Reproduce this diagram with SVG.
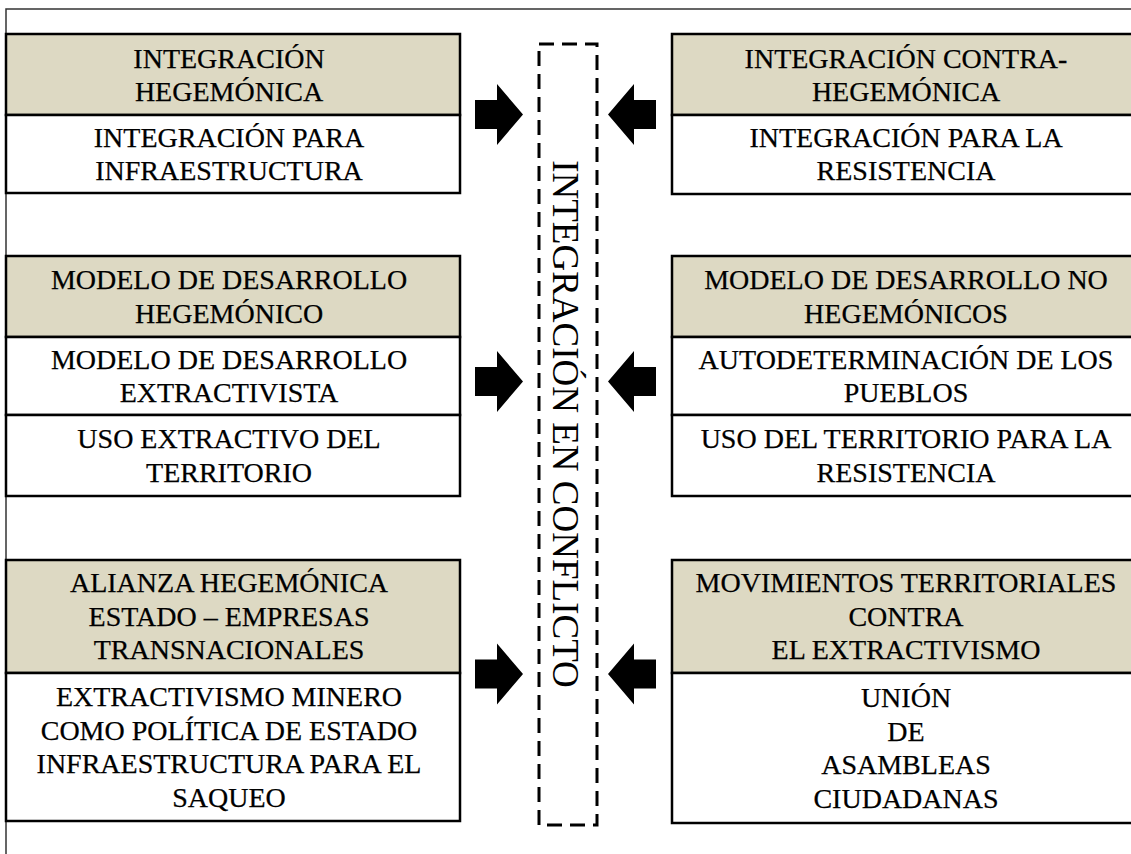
<svg xmlns="http://www.w3.org/2000/svg" xmlns:xlink="http://www.w3.org/1999/xlink" width="1131" height="854" viewBox="0 0 1131 854">
<style>
.hdr{fill:#DDD9C3;stroke:#000;stroke-width:2.5}
.cell{fill:#fff;stroke:#000;stroke-width:2.5}
.t{font-family:"Liberation Serif","Times New Roman",serif;font-size:28px;text-anchor:middle;fill:#000;stroke:#000;stroke-width:0.25}
.vt{font-family:"Liberation Serif","Times New Roman",serif;font-size:37px;text-anchor:middle;fill:#000}
.frame{fill:none;stroke:#333;stroke-width:1.5}
.arrow{fill:#000}
</style>
<defs>
<polygon id="arr" points="475,-14.5 497,-14.5 497,-30.5 523,0 497,30.5 497,14.5 475,14.5"/>
</defs>
<rect width="1131" height="854" fill="#fff"/>
<path class="frame" d="M6,854 V9 H1131"/>

<g id="integracion-hegemonica">
<rect class="hdr" x="6" y="34" width="454" height="81"/>
<rect class="cell" x="6" y="115" width="454" height="78"/>
<text class="t"><tspan x="229" y="67.5">INTEGRACIÓN</tspan><tspan x="229" y="101">HEGEMÓNICA</tspan></text>
<text class="t"><tspan x="229" y="146.5">INTEGRACIÓN PARA</tspan><tspan x="229" y="180">INFRAESTRUCTURA</tspan></text>
</g>

<g id="integracion-contra-hegemonica">
<rect class="hdr" x="672" y="34" width="470" height="81"/>
<rect class="cell" x="672" y="115" width="470" height="79"/>
<text class="t"><tspan x="906" y="67.5">INTEGRACIÓN CONTRA-</tspan><tspan x="906" y="101">HEGEMÓNICA</tspan></text>
<text class="t"><tspan x="906" y="146.5">INTEGRACIÓN PARA LA</tspan><tspan x="906" y="180">RESISTENCIA</tspan></text>
</g>

<g id="modelo-hegemonico">
<rect class="hdr" x="6" y="256" width="454" height="81"/>
<rect class="cell" x="6" y="337" width="454" height="78"/>
<rect class="cell" x="6" y="415" width="454" height="81"/>
<text class="t"><tspan x="229" y="289">MODELO DE DESARROLLO</tspan><tspan x="229" y="322.6">HEGEMÓNICO</tspan></text>
<text class="t"><tspan x="229" y="368.5">MODELO DE DESARROLLO</tspan><tspan x="229" y="402">EXTRACTIVISTA</tspan></text>
<text class="t"><tspan x="229" y="448">USO EXTRACTIVO DEL</tspan><tspan x="229" y="481.6">TERRITORIO</tspan></text>
</g>

<g id="modelo-no-hegemonico">
<rect class="hdr" x="672" y="256" width="470" height="81"/>
<rect class="cell" x="672" y="337" width="470" height="78"/>
<rect class="cell" x="672" y="415" width="470" height="81"/>
<text class="t"><tspan x="906" y="289">MODELO DE DESARROLLO NO</tspan><tspan x="906" y="322.6">HEGEMÓNICOS</tspan></text>
<text class="t"><tspan x="906" y="368.5">AUTODETERMINACIÓN DE LOS</tspan><tspan x="906" y="402">PUEBLOS</tspan></text>
<text class="t"><tspan x="906" y="448">USO DEL TERRITORIO PARA LA</tspan><tspan x="906" y="481.6">RESISTENCIA</tspan></text>
</g>

<g id="alianza-hegemonica">
<rect class="hdr" x="6" y="560" width="454" height="113"/>
<rect class="cell" x="6" y="673" width="454" height="148"/>
<text class="t"><tspan x="229" y="592.2">ALIANZA HEGEMÓNICA</tspan><tspan x="229" y="625.8">ESTADO – EMPRESAS</tspan><tspan x="229" y="659.4">TRANSNACIONALES</tspan></text>
<text class="t"><tspan x="229" y="706">EXTRACTIVISMO MINERO</tspan><tspan x="229" y="739.5">COMO POLÍTICA DE ESTADO</tspan><tspan x="229" y="773">INFRAESTRUCTURA PARA EL</tspan><tspan x="229" y="806.7">SAQUEO</tspan></text>
</g>

<g id="movimientos-territoriales">
<rect class="hdr" x="672" y="560" width="470" height="113"/>
<rect class="cell" x="672" y="673" width="470" height="150"/>
<text class="t"><tspan x="906" y="592.2">MOVIMIENTOS TERRITORIALES</tspan><tspan x="906" y="625.8">CONTRA</tspan><tspan x="906" y="659.4">EL EXTRACTIVISMO</tspan></text>
<text class="t"><tspan x="906" y="707">UNIÓN</tspan><tspan x="906" y="740.5">DE</tspan><tspan x="906" y="774">ASAMBLEAS</tspan><tspan x="906" y="807.7">CIUDADANAS</tspan></text>
</g>

<g id="integracion-en-conflicto">
<rect x="539" y="44" width="58" height="781" fill="none" stroke="#000" stroke-width="3" stroke-dasharray="15 8"/>
<text class="vt" transform="translate(553,424) rotate(90)" x="0" y="0">INTEGRACIÓN EN CONFLICTO</text>
</g>

<g id="connectors">
<use class="arrow" xlink:href="#arr" transform="translate(0,114.5)"/>
<use class="arrow" xlink:href="#arr" transform="translate(1131,114.5) scale(-1,1)"/>
<use class="arrow" xlink:href="#arr" transform="translate(0,381.5)"/>
<use class="arrow" xlink:href="#arr" transform="translate(1131,381.5) scale(-1,1)"/>
<use class="arrow" xlink:href="#arr" transform="translate(0,674)"/>
<use class="arrow" xlink:href="#arr" transform="translate(1131,674) scale(-1,1)"/>
</g>
</svg>
